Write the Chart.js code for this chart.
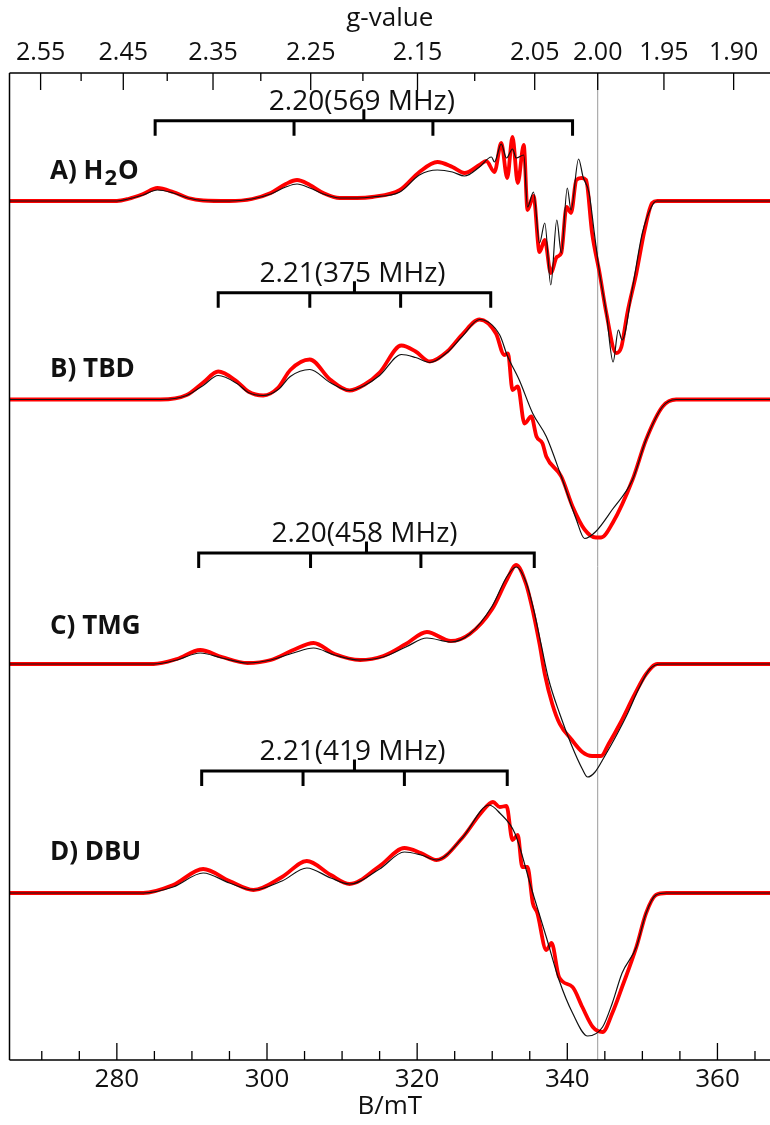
<!DOCTYPE html>
<html>
<head>
<meta charset="utf-8">
<script src="https://cdn.jsdelivr.net/npm/chart.js@4.4.1/dist/chart.umd.min.js"></script>
<style>
  html, body { margin: 0; padding: 0; background: #fff; overflow: hidden; }
  #wrap { width: 770px; height: 1125px; position: relative; }
</style>
</head>
<body>
<div id="wrap"><canvas id="epr"></canvas></div>
<script>
// axes
const fieldMin = 265.7;
const fieldMax = 367.0;
const fieldMajor = [280, 300, 320, 340, 360];
const fieldMinor = [270, 275, 285, 290, 295, 305, 310, 315, 325, 330, 335, 345, 350, 355, 365];
const gMajor = [2.55, 2.45, 2.35, 2.25, 2.15, 2.05, 2.00, 1.95, 1.90];
const gMinor = [2.50, 2.40, 2.30, 2.20, 2.10];
const gFactor = 688.1;   // B(mT) * g for this microwave frequency
const gMarker = 2.00;

// spectra: baseline of each trace on the y scale
const sampleNames = ['A', 'B', 'C', 'D'];
const baselines = [859, 660.5, 396, 167];

// A) H2O
const fieldA_exp = [265.7, 280, 281.5, 283.5, 285.4, 287.5, 289.5, 291.5, 295, 298, 300.5, 302.5, 304, 305.7, 307.5, 309.7, 312, 314, 317.7, 320.3, 322.7, 324.7, 326.3, 328.3, 329.2, 330.3, 331.2, 332.0, 332.7, 333.4, 334.2, 334.7, 335.5, 336.3, 337.0, 337.8, 338.6, 339.2, 339.9, 340.5, 341.2, 341.9, 342.5, 343.3, 344.3, 345.2, 346.5, 347.2, 348.0, 349.2, 350.3, 351.3, 352.0, 367];
const ampA_exp   = [0, 0, 2, 7, 13, 9, 3, 0.5, 0, 2, 8, 17, 21, 16, 8, 3, 3, 4, 11, 29, 39, 34, 28, 36, 40, 29, 58, 23, 64, 18, 56, -9, 5, -51, -39, -72, -56, -52, -6, -12, 21, 23, 21, -32, -72, -112, -152, -146, -112, -72, -29, -2, 0, 0];
const fieldA_sim = [265.7, 280, 281.5, 283.5, 285.4, 287.5, 289.5, 291.5, 295, 298, 300.5, 302.5, 304, 305.7, 307.5, 309.7, 312, 314, 317.7, 320.3, 322.7, 324.7, 326.3, 328.3, 329.9, 330.3, 331.2, 331.9, 332.7, 333.2, 334.2, 334.7, 335.5, 336.3, 337.0, 337.8, 338.6, 339.2, 340.0, 340.5, 341.5, 342.1, 342.9, 343.6, 344.3, 345.2, 346.1, 346.8, 347.3, 348.7, 350.0, 351.2, 351.9, 367];
const ampA_sim   = [0, 0, 2, 6, 11, 8, 3, 0.5, 0, 2, 7, 14, 17, 13, 7, 3, 3, 4, 9, 26, 31, 29, 25, 34, 44, 39, 57, 43, 52, 43, 46, -6, 9, -42, -22, -84, -19, -52, 13, -9, 42, 24, 8, -32, -72, -112, -161, -129, -139, -86, -32, -6, 0, 0];

// B) TBD
const fieldB_exp = [265.7, 285.8, 289.3, 291.5, 293.5, 296, 297.5, 299.5, 301.5, 303.1, 305.7, 308.4, 311, 313, 315, 317.9, 319.8, 321.7, 324, 326, 328.3, 330.5, 331.6, 332.1, 332.7, 333.4, 334.3, 335.2, 335.9, 336.7, 337.2, 339.2, 340.7, 342.3, 343.8, 344.5, 346.0, 348.7, 350.5, 352.7, 354.5, 367];
const ampB_exp   = [0, 0, 4.5, 17, 28, 18, 8, 4, 12, 29.5, 40, 20, 9, 15, 27, 54, 48, 38, 48, 65, 80, 66, 44.5, 46, 9.5, 13, -24, -17, -37, -44, -57, -77, -107, -130, -138, -138, -124, -80, -40, -7, 0, 0];
const fieldB_sim = [265.7, 285.8, 289.3, 291.5, 293.5, 296, 297.5, 299.5, 301.5, 303.1, 305.7, 308.4, 311, 313, 315, 317.9, 319.8, 321.7, 324, 326, 328.3, 331.0, 332.0, 333.6, 335.4, 337.2, 339.2, 341.2, 342.3, 343.8, 346.0, 348.7, 350.5, 352.7, 354.5, 367];
const ampB_sim   = [0, 0, 4, 14, 24, 16, 7, 4, 10, 23, 30, 17, 9, 14, 24, 45, 42, 37, 47, 63, 80, 64.5, 44, 19.5, -14, -37, -77, -120, -139, -132, -110, -80, -40, -7, 0, 0];

// C) TMG
const fieldC_exp = [265.7, 284.9, 288, 291.1, 294, 297.4, 300.5, 303.5, 306.2, 309, 312.4, 315.5, 318.5, 321.3, 324.5, 327, 330, 332, 333.2, 334.5, 335.5, 336.3, 337, 338, 339, 340.5, 342, 343.3, 344.5, 345.5, 347, 349, 350.5, 352, 367];
const ampC_exp   = [0, 0, 5, 14, 7, 1, 4, 14, 21, 10, 4, 8, 20, 32, 23, 30, 55, 85, 99, 80, 50, 20, -10, -40, -60, -75, -88, -92, -92, -80, -60, -30, -10, 0, 0];
const fieldC_sim = [265.7, 284.9, 288, 291.1, 294, 297.4, 300.5, 303.5, 306.2, 309, 312.4, 315.5, 318.5, 321.3, 324.5, 327, 330, 332, 333.2, 334.5, 335.5, 336.5, 337.5, 339, 340.5, 342, 342.7, 343.7, 345, 346.5, 348, 349.5, 351, 352.5, 367];
const ampC_sim   = [0, 0, 4, 11, 6, 1, 4, 11, 16, 9, 4, 7, 17, 26, 22, 30, 58, 88, 97, 82, 55, 20, -15, -50, -80, -105, -113, -108, -92, -72, -50, -25, -5, 0, 0];

// D) DBU
const fieldD_exp = [265.7, 283.5, 287.5, 291.5, 295, 298.2, 302, 305.3, 308.5, 311, 315, 318.3, 320.5, 322.6, 326, 328.5, 330.1, 331, 331.9, 332.7, 333.4, 334.0, 334.7, 335.4, 336.0, 337.2, 337.9, 338.9, 340.7, 342.0, 343.4, 344.7, 346.0, 347.3, 349.2, 350.5, 351.8, 353.2, 367];
const ampD_exp   = [0, 0, 8, 24, 12, 3, 16, 32, 18, 9, 27, 45, 40, 33, 55, 80, 91, 86, 87, 53, 58, 26, 26, -10, -20, -57, -50, -84, -94, -114, -134, -139, -120, -94, -54, -20, -2, 0, 0];
const fieldD_sim = [265.7, 283.5, 287.5, 291.5, 295, 298.2, 302, 305.3, 308.5, 311, 315, 318.3, 320.5, 322.6, 326, 329.6, 331, 333, 335.4, 337.2, 338.9, 340.7, 342.7, 344.7, 346.0, 347.3, 349.2, 350.5, 351.8, 353.2, 367];
const ampD_sim   = [0, 0, 6, 20, 10, 3, 12, 25, 15, 9, 24, 41, 38, 33, 55, 88, 80, 60, 0, -44, -87, -120, -143, -134, -110, -80, -54, -20, -2, 0, 0];

// hyperfine stick diagrams
const bracketText = ['2.20(569 MHz)', '2.21(375 MHz)', '2.20(458 MHz)', '2.21(419 MHz)'];
const bracketLines = [
  [285.1, 303.6, 322.1, 340.7],
  [293.5, 305.7, 317.8, 329.8],
  [290.9, 305.8, 320.5, 335.6],
  [291.3, 304.8, 318.3, 332.0]
];
const bracketLevel = [939.3, 767.3, 507, 289];
const sampleLabels = ['A) H', 'B) TBD', 'C) TMG', 'D) DBU'];
const sampleLabelLevel = [888, 690, 433, 207];
const sampleLabelField = 271.1;

const expSets = [[fieldA_exp, ampA_exp], [fieldB_exp, ampB_exp], [fieldC_exp, ampC_exp], [fieldD_exp, ampD_exp]];
const simSets = [[fieldA_sim, ampA_sim], [fieldB_sim, ampB_sim], [fieldC_sim, ampC_sim], [fieldD_sim, ampD_sim]];

function toPoints(set, base) {
  return set[0].map((b, i) => ({ x: b, y: set[1][i] + base }));
}

const datasets = [];
sampleNames.forEach((name, k) => {
  datasets.push({
    label: name + ' exp', data: toPoints(expSets[k], baselines[k]),
    borderColor: '#ff0000', borderWidth: 3.8, order: 2
  });
  datasets.push({
    label: name + ' sim', data: toPoints(simSets[k], baselines[k]),
    borderColor: '#111111', borderWidth: 1.2, order: 1
  });
});

const FONT = "'Open Sans', 'Noto Sans', sans-serif";

const eprDecor = {
  id: 'eprDecor',
  beforeDatasetsDraw(chart) {
    const { ctx, chartArea: a, scales: { x } } = chart;
    const px = x.getPixelForValue(gFactor / gMarker);
    ctx.save();
    ctx.strokeStyle = '#9a9a9a';
    ctx.lineWidth = 1;
    ctx.beginPath();
    ctx.moveTo(px, a.top);
    ctx.lineTo(px, a.bottom);
    ctx.stroke();
    ctx.restore();
  },
  afterDatasetsDraw(chart) {
    const { ctx, chartArea: a, scales: { x, y } } = chart;
    ctx.save();
    ctx.strokeStyle = '#000';
    ctx.lineWidth = 1.5;
    ctx.beginPath();
    ctx.moveTo(a.left, a.top); ctx.lineTo(a.left, a.bottom);
    ctx.moveTo(a.left, a.top); ctx.lineTo(a.right, a.top);
    ctx.moveTo(a.left, a.bottom); ctx.lineTo(a.right, a.bottom);
    ctx.stroke();

    const tick = (px, y0, len) => { ctx.moveTo(px, y0); ctx.lineTo(px, y0 + len); };
    ctx.lineWidth = 1.3;
    ctx.beginPath();
    fieldMajor.forEach(b => tick(x.getPixelForValue(b), a.bottom, -17));
    fieldMinor.forEach(b => tick(x.getPixelForValue(b), a.bottom, -9));
    gMajor.forEach(g => tick(x.getPixelForValue(gFactor / g), a.top, 17));
    gMinor.forEach(g => tick(x.getPixelForValue(gFactor / g), a.top, 8));
    ctx.stroke();

    // stick diagrams
    ctx.lineWidth = 3;
    ctx.lineCap = 'butt';
    ctx.fillStyle = '#111';
    ctx.font = '28px ' + FONT;
    ctx.textAlign = 'center';
    ctx.textBaseline = 'alphabetic';
    bracketLines.forEach((pos, k) => {
      const yl = y.getPixelForValue(bracketLevel[k]);
      const x0 = x.getPixelForValue(pos[0]);
      const x1 = x.getPixelForValue(pos[pos.length - 1]);
      const xm = (x0 + x1) / 2;
      ctx.beginPath();
      ctx.moveTo(x0, yl); ctx.lineTo(x1, yl);
      pos.forEach(b => tick(x.getPixelForValue(b), yl - 1.5, 16.5));
      tick(xm, yl + 1.5, -13);
      ctx.stroke();
      ctx.fillText(bracketText[k], xm - 2, yl - 11);
    });

    // sample labels
    ctx.textAlign = 'left';
    ctx.textBaseline = 'middle';
    const bold = s => 'bold ' + s + 'px ' + FONT;
    sampleLabels.forEach((txt, k) => {
      const lx = x.getPixelForValue(sampleLabelField);
      const ly = y.getPixelForValue(sampleLabelLevel[k]);
      ctx.font = bold(26);
      ctx.fillText(txt, lx, ly);
      if (k === 0) {
        let cx = lx + ctx.measureText(txt).width + 1;
        ctx.font = bold(22);
        ctx.fillText('2', cx, ly + 7);
        cx += ctx.measureText('2').width + 1;
        ctx.font = bold(26);
        ctx.fillText('O', cx, ly);
      }
    });
    ctx.restore();
  }
};

new Chart(document.getElementById('epr'), {
  type: 'line',
  data: { datasets },
  options: {
    responsive: true,
    maintainAspectRatio: false,
    animation: false,
    layout: { padding: { left: 9.5, right: 0, top: 0, bottom: 0 } },
    elements: {
      point: { radius: 0 },
      line: { cubicInterpolationMode: 'monotone', borderJoinStyle: 'round' }
    },
    plugins: { legend: { display: false }, tooltip: { enabled: false } },
    scales: {
      x: {
        type: 'linear', position: 'bottom', min: fieldMin, max: fieldMax,
        grid: { display: false, drawTicks: false }, border: { display: false },
        afterBuildTicks: s => { s.ticks = fieldMajor.map(v => ({ value: v })); },
        afterFit: s => { s.height = 65; },
        ticks: { autoSkip: false, maxRotation: 0, padding: 4, color: '#111', font: { family: FONT, size: 26 }, callback: v => v },
        title: { display: true, text: 'B/mT', color: '#111', font: { family: FONT, size: 26 }, padding: { top: 0, bottom: 3 } }
      },
      g: {
        type: 'linear', position: 'top', min: fieldMin, max: fieldMax,
        grid: { display: false, drawTicks: false }, border: { display: false },
        afterBuildTicks: s => { s.ticks = gMajor.map(g => ({ value: gFactor / g })); },
        afterFit: s => { s.height = 73; },
        ticks: { autoSkip: false, maxRotation: 0, padding: 5, color: '#111', font: { family: FONT, size: 25 }, callback: (v, i) => gMajor[i].toFixed(2) },
        title: { display: true, text: 'g-value', color: '#111', font: { family: FONT, size: 26 }, padding: { top: 3, bottom: 0 } }
      },
      y: { type: 'linear', display: false, min: 0, max: 987 }
    }
  },
  plugins: [eprDecor]
});
</script>
</body>
</html>
